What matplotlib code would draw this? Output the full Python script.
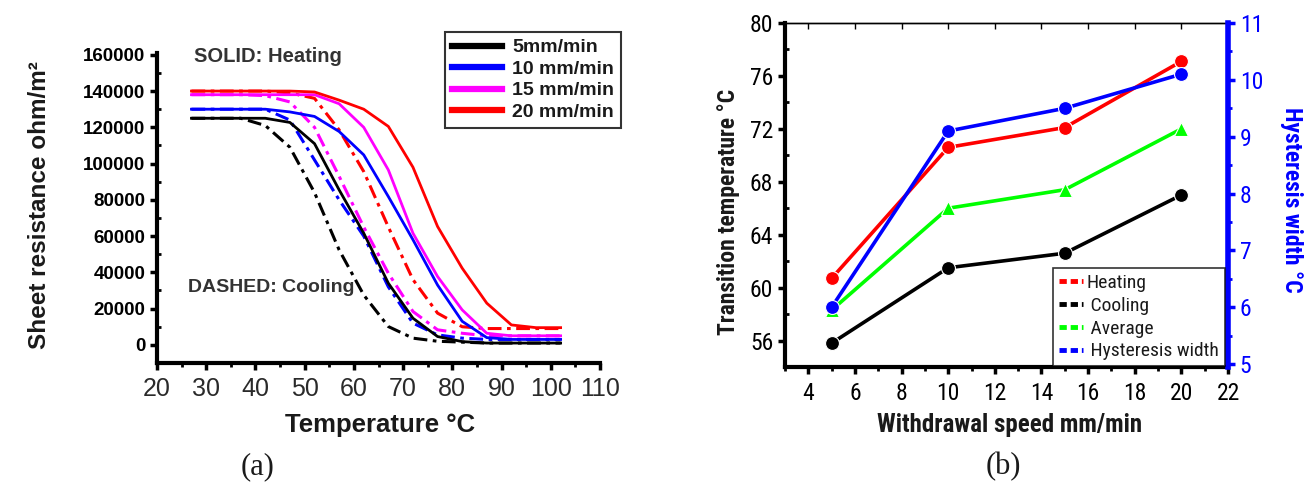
import matplotlib
matplotlib.use("Agg")
import matplotlib.pyplot as plt
from matplotlib import font_manager
from matplotlib.font_manager import FontProperties
from matplotlib.lines import Line2D
from matplotlib.ticker import MultipleLocator

# ---- data: panel (a), sheet resistance vs temperature ----
temp = [27, 32, 37, 42, 47, 52, 57, 62, 67, 72, 77, 82, 87, 92, 97, 102]
heat_5 = [125000, 125000, 125000, 125000, 122700, 111000, 85500, 61600,
          34000, 14700, 4600, 1800, 1000, 1000, 1000, 1000]
heat_10 = [130000, 130000, 130000, 130000, 128500, 126000, 117700, 104800,
           81800, 58000, 33000, 13000, 4000, 3000, 3000, 3000]
heat_15 = [138000, 138000, 138000, 138000, 138000, 138000, 133000, 120000,
           96500, 61600, 37700, 19300, 6400, 5000, 5000, 5000]
heat_20 = [140000, 140000, 140000, 140000, 140000, 139500, 135000, 130000,
           120500, 98000, 65300, 42300, 23000, 11000, 9500, 9500]
cool_5 = [125000, 125000, 125000, 121000, 109000, 84000, 52400, 27500,
          10100, 3700, 2000, 1500, 1000, 1000, 1000, 1000]
cool_10 = [130000, 130000, 130000, 130000, 124000, 102000, 80000, 60000,
           32000, 12000, 5500, 3700, 3000, 3000, 3000, 3000]
cool_15 = [138000, 138000, 138000, 137500, 134000, 120000, 93000, 65000,
           39500, 18400, 8300, 6400, 5000, 5000, 5000, 5000]
cool_20 = [140000, 140000, 140000, 140000, 139000, 136000, 118600, 95600,
           65000, 36000, 17500, 10000, 9000, 9000, 9000, 9000]
speed_labels = ["5mm/min", "10 mm/min", "15 mm/min", "20 mm/min"]

# ---- data: panel (b), transition temperature vs withdrawal speed ----
speed = [5, 10, 15, 20]
t_heating = [60.7, 70.6, 72.1, 77.1]
t_cooling = [55.8, 61.5, 62.6, 67.0]
t_average = [58.3, 66.0, 67.4, 72.0]
hysteresis = [6.0, 9.1, 9.5, 10.1]
legend_b = ["Heating", " Cooling", " Average", " Hysteresis width"]

COLORS = ["#000000", "#0000ff", "#ff00ff", "#ff0000"]
INK = "#1a1a1a"
COOL_DASH = (0, (4.5, 1.8, 1.2, 1.8))


def _weight(w):
    if isinstance(w, str):
        return font_manager.weight_dict.get(w, 400)
    return w


def _is_narrow(f):
    n = f.name.lower()
    st = f.stretch
    if "narrow" in n or "condensed" in n:
        return True
    if isinstance(st, str):
        return "condensed" in st
    return isinstance(st, (int, float)) and st < 500


def narrow_font(bold):
    """Look for an installed condensed face; fall back to Liberation Sans."""
    prefs = ["liberation sans narrow", "roboto condensed", "arial narrow",
             "noto sans", "dejavu sans", "open sans", "roboto"]
    found = {}
    for f in font_manager.fontManager.ttflist:
        if not _is_narrow(f) or f.style != "normal":
            continue
        w = _weight(f.weight)
        if (w >= 600) != bold or w > 750 or w < 350:
            continue
        key = f.name.lower()
        for p in prefs:
            if key.startswith(p):
                found.setdefault(p, f.fname)
    for p in prefs:
        if p in found:
            return found[p]
    return None


NARROW_R = narrow_font(False)
NARROW_B = narrow_font(True)


def nfp(size, bold=False):
    path = NARROW_B if bold else NARROW_R
    if path:
        return FontProperties(fname=path, size=size)
    return FontProperties(family="Liberation Sans", size=size,
                          weight="bold" if bold else "normal")


plt.rcParams.update({
    "font.family": ["Liberation Sans", "DejaVu Sans"],
    "text.color": INK,
})

W, H = 1315, 497
fig = plt.figure(figsize=(W / 100, H / 100), dpi=100)


def fx(px):
    return px / W


def fy(py):
    return 1 - py / H


# ================= panel (a) =================
ax = fig.add_axes([fx(157), fy(363), fx(443), 310 / H])
heats = [heat_5, heat_10, heat_15, heat_20]
cools = [cool_5, cool_10, cool_15, cool_20]
for c, h, lab in zip(COLORS, heats, speed_labels):
    ax.plot(temp, h, color=c, lw=2.0, label=lab, zorder=3)
for c, cl in zip(COLORS, cools):
    ax.plot(temp, cl, color=c, lw=2.2, ls=COOL_DASH, zorder=2)

ax.set_xlim(20, 110)
ax.set_ylim(-10000, 161000)
ax.xaxis.set_major_locator(MultipleLocator(10))
ax.xaxis.set_minor_locator(MultipleLocator(5))
ax.yaxis.set_major_locator(MultipleLocator(20000))
ax.yaxis.set_minor_locator(MultipleLocator(10000))
for s in ("top", "right"):
    ax.spines[s].set_visible(False)
for s in ("left", "bottom"):
    ax.spines[s].set_linewidth(3)
ax.tick_params(axis="both", which="major", direction="out", length=5, width=2.5)
ax.tick_params(axis="y", which="minor", direction="in", length=3, width=2)
ax.tick_params(axis="x", which="minor", direction="out", length=3, width=2)
ax.tick_params(axis="y", labelsize=13.5, pad=3.5)
ax.tick_params(axis="x", labelsize=18, pad=5)
for t in ax.get_yticklabels():
    t.set_fontweight("bold")
for t in ax.get_xticklabels():
    t.set_color("#2a2a2a")

leg = ax.legend(loc="upper right", bbox_to_anchor=(fx(621), fy(32)),
                bbox_transform=fig.transFigure, frameon=True, fancybox=False,
                handlelength=2.6, handletextpad=0.5, borderpad=0.35,
                labelspacing=0.2, borderaxespad=0,
                prop={"weight": "bold", "size": 14})
leg.get_frame().set_edgecolor("black")
leg.get_frame().set_linewidth(1.5)
for ln in leg.get_lines():
    ln.set_linewidth(4.5)

fig.text(fx(194), fy(57), "SOLID: Heating", fontsize=14.5, fontweight="bold",
         color="#333333", ha="left", va="center")
fig.text(fx(188), fy(288), "DASHED: Cooling", fontsize=14, fontweight="bold",
         color="#333333", ha="left", va="center")
fig.text(fx(40), fy(205), "Sheet resistance ohm/m²", rotation=90, fontsize=17.5,
         fontweight="bold", ha="center", va="center")
fig.text(fx(380), fy(425), "Temperature °C", fontsize=18.5, fontweight="bold",
         ha="center", va="center")
fig.text(fx(258), fy(467), "(a)", fontsize=22, family="Liberation Serif",
         ha="center", va="center")

# ================= panel (b) =================
bx = fig.add_axes([fx(785), fy(367), fx(443), 344 / H])
mk = dict(ms=10, mec="white", mew=0.8, lw=2.6)
bx.plot(speed, t_heating, "o-", color="#ff0000", zorder=3, **mk)
bx.plot(speed, t_cooling, "o-", color="#000000", zorder=3, **mk)
bx.plot(speed, t_average, "^-", color="#00ff00", zorder=3, **mk)
bx.set_xlim(3, 22)
bx.set_ylim(54, 80)
bx.xaxis.set_major_locator(MultipleLocator(2))
bx.xaxis.set_minor_locator(MultipleLocator(1))
bx.yaxis.set_major_locator(MultipleLocator(4))
bx.yaxis.set_minor_locator(MultipleLocator(2))
bx.spines["left"].set_linewidth(3)
bx.spines["bottom"].set_linewidth(3)
bx.spines["top"].set_linewidth(1)
bx.spines["right"].set_visible(False)
bx.tick_params(axis="both", which="major", direction="out", length=5, width=2.5)
bx.tick_params(axis="y", which="minor", direction="in", length=3, width=2)
bx.tick_params(axis="x", which="minor", direction="out", length=3, width=2)
bx.tick_params(axis="x", which="major", pad=6)
for t in bx.get_xticklabels() + bx.get_yticklabels():
    t.set_fontproperties(nfp(17))

top = bx.secondary_xaxis("top")
top.xaxis.set_major_locator(MultipleLocator(2))
top.tick_params(direction="in", length=4, width=1, labeltop=False)
top.spines["top"].set_linewidth(1)

tx = bx.twinx()
tx.plot(speed, hysteresis, "o-", color="#0000ff", zorder=4, **mk)
tx.set_ylim(4.95, 11)
tx.yaxis.set_major_locator(MultipleLocator(1))
tx.yaxis.set_minor_locator(MultipleLocator(0.5))
for s in ("left", "top", "bottom"):
    tx.spines[s].set_visible(False)
tx.spines["right"].set_color("#0000ff")
tx.spines["right"].set_linewidth(4)
tx.tick_params(axis="y", which="major", direction="out", length=5, width=2.5,
               colors="#0000ff")
tx.tick_params(axis="y", which="minor", direction="out", length=3, width=2,
               colors="#0000ff")
for t in tx.get_yticklabels():
    t.set_fontproperties(nfp(17))

handles = [Line2D([], [], color=c, lw=3.5, ls=(0, (1.5, 0.8)))
           for c in ("#ff0000", "#000000", "#00ff00", "#0000ff")]
lg = tx.legend(handles, legend_b,
               loc="upper right", bbox_to_anchor=(fx(1225), fy(268)),
               bbox_transform=fig.transFigure, frameon=True, fancybox=False,
               handlelength=1.2, handletextpad=0.2, borderpad=0.3,
               labelspacing=0.25, borderaxespad=0, prop=nfp(14))
lg.get_frame().set_edgecolor("black")
lg.get_frame().set_linewidth(1.2)

fig.text(fx(729), fy(212), "Transition temperature °C", rotation=90,
         fontproperties=nfp(17, True), ha="center", va="center")
fig.text(fx(1292), fy(200), "Hysteresis width °C", rotation=270,
         fontproperties=nfp(17, True), color="#0000ff",
         ha="center", va="center")
fig.text(fx(1010), fy(425), "Withdrawal speed mm/min",
         fontproperties=nfp(18, True), ha="center", va="center")
fig.text(fx(1003), fy(467), "(b)", fontsize=22, family="Liberation Serif",
         ha="center", va="center")

fig.savefig("out.png", dpi=100)
